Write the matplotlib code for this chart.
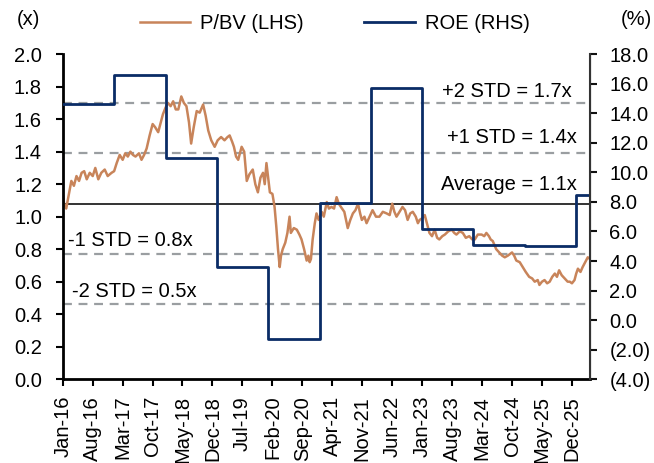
import numpy as np
import pandas as pd
import matplotlib
matplotlib.use("Agg")
import matplotlib.pyplot as plt
import matplotlib.dates as mdates
from matplotlib.ticker import FuncFormatter

plt.rcParams['font.family'] = ['Liberation Sans', 'DejaVu Sans']
plt.rcParams['font.size'] = 14.5

# P/BV (LHS) - months since Jan-16, value (x)
pbv_month = [0.0, 0.3, 0.8, 1.3, 2.0, 2.6, 3.2, 3.8, 4.4, 5.0, 5.6, 6.3, 7.0, 7.6, 8.3, 9.0, 9.8,
             10.5, 11.4, 12.0, 12.6, 13.3, 14.0, 14.6, 15.2, 15.8, 16.4, 17.0, 17.8, 18.4, 19.0,
             19.6, 20.3, 21.0, 21.6, 22.3, 22.9, 23.4, 24.0, 24.6, 25.2, 25.8, 26.4, 27.0, 27.7,
             28.3, 28.9, 29.5, 30.0, 30.6, 31.3, 32.0, 32.8, 33.4, 34.0, 34.7, 35.5, 36.2, 37.0,
             37.8, 38.5, 39.0, 39.6, 40.0, 40.5, 41.0, 41.8, 42.4, 43.0, 43.6, 44.4, 45.0, 45.6,
             46.2, 46.8, 47.2, 47.6, 48.0, 48.4, 49.0, 49.5, 49.9, 50.3, 50.7, 51.0, 51.4, 52.0,
             52.5, 53.0, 53.3, 54.0, 54.7, 55.3, 55.8, 56.4, 57.0, 57.4, 57.7, 58.0, 58.4, 58.9,
             59.3, 59.8, 60.5, 61.0, 61.7, 62.2, 62.8, 63.4, 64.0, 64.5, 65.0, 65.8, 66.6, 67.2,
             67.8, 68.4, 69.0, 69.5, 69.9, 70.5, 71.0, 71.7, 72.4, 73.2, 74.0, 74.8, 75.7, 76.4,
             77.0, 77.5, 78.0, 78.7, 79.4, 80.0, 80.6, 81.2, 81.8, 82.5, 83.0, 83.4, 84.0, 84.6,
             85.2, 85.7, 86.3, 86.9, 87.5, 88.0, 88.7, 89.3, 90.1, 90.9, 91.5, 92.0, 92.8, 93.5,
             94.2, 95.0, 95.7, 96.3, 97.0, 97.9, 98.5, 99.0, 99.6, 100.0, 100.5, 101.3, 102.0,
             102.7, 103.3, 104.0, 105.0, 105.5, 106.0, 106.8, 107.5, 108.2, 109.0, 109.7, 110.3,
             111.0, 111.4, 112.0, 112.6, 113.2, 113.8, 114.4, 115.0, 115.5, 116.0, 116.6, 117.3,
             118.0, 118.5, 119.0, 119.6, 120.0, 120.4, 121.0, 121.5, 122.1, 122.7, 123.2]
pbv_value = [1.14, 1.08, 1.05, 1.12, 1.22, 1.19, 1.25, 1.22, 1.27, 1.28, 1.23, 1.27, 1.25, 1.30, 1.23,
             1.27, 1.29, 1.25, 1.27, 1.28, 1.33, 1.38, 1.35, 1.39, 1.37, 1.40, 1.38, 1.37, 1.39,
             1.35, 1.38, 1.42, 1.50, 1.57, 1.55, 1.52, 1.58, 1.63, 1.67, 1.70, 1.68, 1.71, 1.66,
             1.66, 1.74, 1.70, 1.68, 1.58, 1.45, 1.55, 1.65, 1.64, 1.69, 1.62, 1.53, 1.47, 1.43,
             1.47, 1.49, 1.47, 1.49, 1.50, 1.46, 1.43, 1.37, 1.35, 1.43, 1.40, 1.22, 1.26, 1.29,
             1.20, 1.15, 1.24, 1.27, 1.20, 1.33, 1.24, 1.15, 1.14, 1.06, 0.94, 0.80, 0.69, 0.76,
             0.80, 0.84, 0.90, 1.00, 0.90, 0.93, 0.92, 0.89, 0.86, 0.80, 0.73, 0.76, 0.72, 0.74,
             0.86, 0.96, 1.02, 0.98, 1.03, 1.00, 1.09, 1.05, 1.06, 1.05, 1.12, 1.08, 1.06, 1.03,
             0.93, 0.98, 1.02, 1.04, 1.08, 1.02, 0.98, 1.00, 0.96, 1.00, 1.04, 1.00, 1.00, 1.03,
             1.02, 1.01, 1.08, 1.03, 1.00, 1.03, 1.06, 1.04, 0.98, 1.02, 1.03, 1.00, 0.96, 0.98,
             0.99, 1.01, 0.95, 0.90, 0.88, 0.92, 0.87, 0.86, 0.88, 0.89, 0.91, 0.92, 0.90, 0.89,
             0.91, 0.90, 0.87, 0.88, 0.86, 0.86, 0.89, 0.89, 0.88, 0.90, 0.88, 0.86, 0.85, 0.80,
             0.78, 0.76, 0.75, 0.76, 0.78, 0.76, 0.73, 0.72, 0.69, 0.66, 0.63, 0.62, 0.60, 0.61,
             0.58, 0.60, 0.61, 0.59, 0.60, 0.63, 0.65, 0.63, 0.67, 0.64, 0.62, 0.60, 0.60, 0.59,
             0.61, 0.65, 0.68, 0.66, 0.69, 0.72, 0.75, 0.74]

# ROE (RHS) - annual, %
roe_dates = ['2016-01-01', '2017-01-01', '2018-01-01', '2019-01-01', '2020-01-01', '2021-01-01',
             '2022-01-01', '2023-01-01', '2024-01-01', '2025-01-01', '2026-01-01']
roe_value = [14.6, 16.6, 11.0, 3.6, -1.3, 7.9, 15.7, 6.2, 5.1, 5.0, 8.5]

# valuation bands (x)
avg_level = 1.08
std_levels = [1.70, 1.39, 0.77, 0.46]

start = pd.Timestamp('2016-01-01')
pbv_dates = [start + pd.Timedelta(days=m * 30.44) for m in pbv_month]
end = pbv_dates[-1]
roe_x = list(pd.to_datetime(roe_dates)) + [end]
roe_y = roe_value + [roe_value[-1]]

c_pbv = '#C8845A'
c_roe = '#0A2C66'
c_band = '#9A9EA1'

fig = plt.figure(figsize=(6.54, 4.63), dpi=100)
ax1 = fig.add_axes([0.096, 0.181, 0.806, 0.702])
ax2 = ax1.twinx()

for lv in std_levels:
    ax1.axhline(lv, color=c_band, lw=1.6, ls=(0, (4, 3)))
ax1.axhline(avg_level, color='#333333', lw=1.4)
l1, = ax1.plot(pbv_dates, pbv_value, color=c_pbv, lw=1.8)
l2, = ax2.plot(roe_x, roe_y, color=c_roe, lw=2.0, drawstyle='steps-post')

ax1.set_ylim(0, 2.0)
ax1.set_yticks(np.arange(0, 2.01, 0.2))
ax1.yaxis.set_major_formatter(FuncFormatter(lambda v, p: f'{v:.1f}'))
ax2.set_ylim(-4, 18)
ax2.set_yticks(np.arange(-4, 18.1, 2))
ax2.yaxis.set_major_formatter(FuncFormatter(lambda v, p: f'({abs(v):.1f})' if v < 0 else f'{v:.1f}'))

ax1.set_xlim(start, end)
xt = pd.date_range('2016-01-01', periods=18, freq='7MS')
ax1.set_xticks(xt)
ax1.xaxis.set_major_formatter(mdates.DateFormatter('%b-%y'))
plt.setp(ax1.get_xticklabels(), rotation=90)

for ax in (ax1, ax2):
    ax.spines['top'].set_visible(False)
    ax.tick_params(length=5, width=1.5)
ax1.tick_params(axis='y', pad=10)
ax1.tick_params(axis='x', pad=7)
ax2.tick_params(axis='y', pad=9)
ax1.spines['left'].set_linewidth(2)
ax1.spines['bottom'].set_linewidth(2)
ax2.spines['left'].set_visible(False)
ax2.spines['bottom'].set_visible(False)
ax2.spines['right'].set_color('#333333')
ax2.spines['right'].set_linewidth(1.5)
ax2.tick_params(colors='#111111', labelcolor='black')

ax1.text(0.966, 0.886, '+2 STD = 1.7x', transform=ax1.transAxes, ha='right', va='center')
ax1.text(0.976, 0.745, '+1 STD = 1.4x', transform=ax1.transAxes, ha='right', va='center')
ax1.text(0.976, 0.600, 'Average = 1.1x', transform=ax1.transAxes, ha='right', va='center')
ax1.text(0.010, 0.427, '-1 STD = 0.8x', transform=ax1.transAxes, ha='left', va='center')
ax1.text(0.017, 0.270, '-2 STD = 0.5x', transform=ax1.transAxes, ha='left', va='center')

fig.text(0.043, 0.957, '(x)', ha='center', va='center')
fig.text(0.973, 0.957, '(%)', ha='center', va='center')

fig.legend([l1, l2], ['P/BV (LHS)', 'ROE (RHS)'], loc='center', bbox_to_anchor=(0.512, 0.950),
           ncol=2, frameon=False, handlelength=2.5, columnspacing=3.0, handletextpad=0.5)

fig.savefig('out.png', dpi=100)
